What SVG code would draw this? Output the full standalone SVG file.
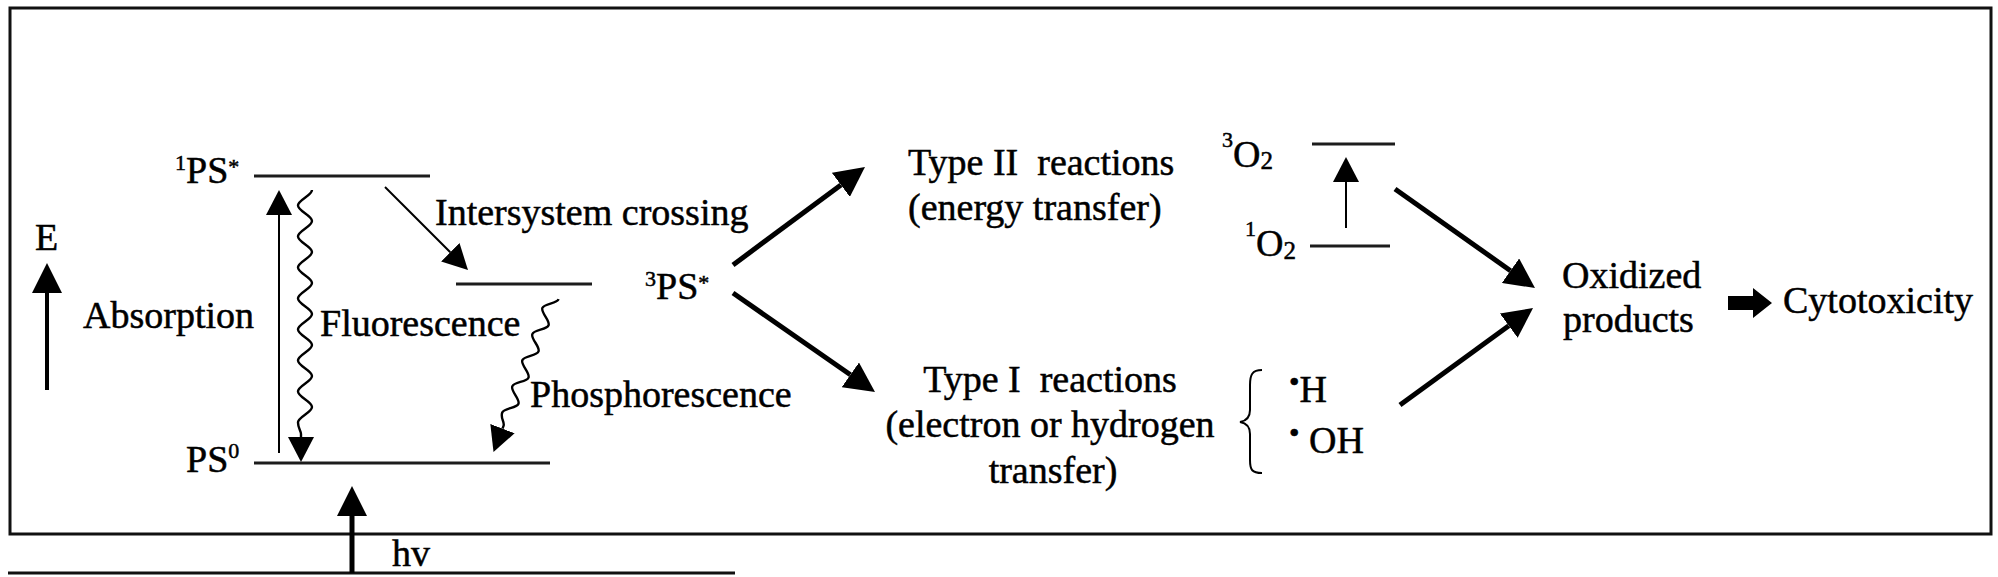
<svg xmlns="http://www.w3.org/2000/svg" width="1998" height="577" viewBox="0 0 1998 577">
<style>
.t{font-family:"Liberation Serif","Times New Roman",serif;font-size:38px;fill:#000;stroke:#000;stroke-width:0.5;white-space:pre}
.sup{font-size:22px}
.sub{font-size:25px}
.dot{font-size:30px}
.lvl{stroke:#1c1c1c;stroke-width:3;fill:none}
.frame{stroke:#111;stroke-width:3;fill:none}
.thick{stroke:#000;stroke-width:5;fill:none}
.med{stroke:#000;stroke-width:4;fill:none}
.thin{stroke:#000;stroke-width:2;fill:none}
.wave{stroke:#000;stroke-width:2.4;fill:none}
</style>
<defs>
<marker id="hb" markerUnits="userSpaceOnUse" markerWidth="30" markerHeight="30" viewBox="0 0 30 30" refX="0" refY="15" orient="auto"><path d="M0,0 L30,15 L0,30 z" fill="#000"/></marker>
<marker id="hs" markerUnits="userSpaceOnUse" markerWidth="25" markerHeight="26" viewBox="0 0 25 26" refX="0" refY="13" orient="auto"><path d="M0,0 L25,13 L0,26 z" fill="#000"/></marker>
</defs>
<rect width="1998" height="577" fill="#fff"/>
<g id="frame">
<rect class="frame" x="10" y="8" width="1981" height="526"/>
<line class="frame" x1="8" y1="573" x2="735" y2="573"/>
</g>
<g id="energy-axis">
<text class="t" x="35" y="250">E</text>
</g>
<g id="S1">
<text class="t" x="175" y="183"><tspan class="sup" dy="-13">1</tspan><tspan dy="13">PS</tspan><tspan class="sup" dy="-9">*</tspan></text>
<line class="lvl" x1="254" y1="176" x2="430" y2="176"/>
</g>
<g id="S0">
<text class="t" x="186" y="472">PS<tspan class="sup" dy="-14">0</tspan></text>
<line class="lvl" x1="254" y1="463" x2="550" y2="463"/>
</g>
<g id="T1-level">
<line class="lvl" x1="456" y1="284" x2="592" y2="284"/>
</g>
<g id="labels-left">
<text class="t" x="83" y="328">Absorption</text>
<text class="t" x="320" y="336">Fluorescence</text>
<text class="t" x="435" y="225">Intersystem crossing</text>
<text class="t" x="530" y="407">Phosphorescence</text>
<text class="t" x="392" y="566">hv</text>
</g>
<g id="PS3">
<text class="t" x="645" y="299"><tspan class="sup" dy="-13">3</tspan><tspan dy="13">PS</tspan><tspan class="sup" dy="-9">*</tspan></text>
</g>
<g id="typeII">
<text class="t" x="908" y="175">Type II  reactions</text>
<text class="t" x="908" y="220">(energy transfer)</text>
</g>
<g id="typeI">
<text class="t" x="1050" y="392" text-anchor="middle">Type I  reactions</text>
<text class="t" x="1050" y="437" text-anchor="middle">(electron or hydrogen</text>
<text class="t" x="1053" y="483" text-anchor="middle">transfer)</text>
</g>
<g id="O2-triplet">
<text class="t" x="1222" y="167"><tspan class="sup" dy="-20">3</tspan><tspan dy="20">O</tspan><tspan class="sub" dy="2">2</tspan></text>
<line class="lvl" x1="1312" y1="144" x2="1395" y2="144"/>
</g>
<g id="O2-singlet">
<text class="t" x="1245" y="256"><tspan class="sup" dy="-20">1</tspan><tspan dy="20">O</tspan><tspan class="sub" dy="3">2</tspan></text>
<line class="lvl" x1="1310" y1="246" x2="1390" y2="246"/>
</g>
<g id="radicals">
<path class="thin" d="M1262,370 C1252,370 1250,375 1250,385 L1250,410 C1250,418 1246,421 1240,422 C1246,423 1250,426 1250,434 L1250,460 C1250,470 1252,473 1262,473"/>
<text class="t" x="1289" y="402"><tspan class="dot" dy="-10">•</tspan><tspan dy="10">H</tspan></text>
<text class="t" x="1289" y="453"><tspan class="dot" dy="-10">•</tspan><tspan dy="10"> OH</tspan></text>
</g>
<g id="oxidized">
<text class="t" x="1562" y="288">Oxidized</text>
<text class="t" x="1563" y="332">products</text>
</g>
<g id="cytotoxicity">
<text class="t" x="1783" y="313">Cytotoxicity</text>
</g>
<g id="connectors">
<line class="med" x1="47" y1="390" x2="47" y2="293" marker-end="url(#hb)"/>
<line class="thin" x1="279" y1="453" x2="279" y2="215" marker-end="url(#hs)"/>
<g transform="translate(305,190)">
<path class="wave" marker-end="url(#hs)" d="M7,0 c0,5.58 -14,9.92 -14,15.5 c0,5.58 14,9.92 14,15.5 c0,5.58 -14,9.92 -14,15.5 c0,5.58 14,9.92 14,15.5 c0,5.58 -14,9.92 -14,15.5 c0,5.58 14,9.92 14,15.5 c0,5.58 -14,9.92 -14,15.5 c0,5.58 14,9.92 14,15.5 c0,5.58 -14,9.92 -14,15.5 c0,5.58 14,9.92 14,15.5 c0,5.58 -14,9.92 -14,15.5 c0,5.58 14,9.92 14,15.5 c0,5.58 -14,9.92 -14,15.5 c0,5.58 14,9.92 14,15.5 c0,5.58 -14,9.92 -14,15.5 C-7,238 -4,241 -4,244 L-4,247"/>
</g>
<line class="thin" x1="385" y1="187" x2="450.3" y2="252.3" stroke-width="2.5" marker-end="url(#hs)"/>
<g transform="translate(553,297) rotate(21)">
<path class="wave" marker-end="url(#hs)" d="M6,0 c0,5 -12,9 -12,14 c0,5 12,9 12,14 c0,5 -12,9 -12,14 c0,5 12,9 12,14 c0,5 -12,9 -12,14 c0,5 12,9 12,14 c0,5 -12,9 -12,14 c0,5 12,9 12,14 c0,5 -12,9 -12,14 C-6,132 0,134 0,138 L0,141"/>
</g>
<line class="thick" x1="352" y1="573" x2="352" y2="516" marker-end="url(#hb)"/>
<line class="thick" x1="733" y1="265" x2="840.9" y2="184.9" marker-end="url(#hb)"/>
<line class="thick" x1="733" y1="293" x2="850.4" y2="374.8" marker-end="url(#hb)"/>
<line class="thin" x1="1346" y1="228" x2="1346" y2="182" marker-end="url(#hs)"/>
<line class="thick" x1="1395" y1="189" x2="1510.5" y2="270.7" marker-end="url(#hb)"/>
<line class="thick" x1="1400" y1="405" x2="1508.8" y2="325.7" marker-end="url(#hb)"/>
<polygon points="1728,296 1753,296 1753,288 1772,303 1753,318 1753,310 1728,310" fill="#000"/>
</g>
</svg>
